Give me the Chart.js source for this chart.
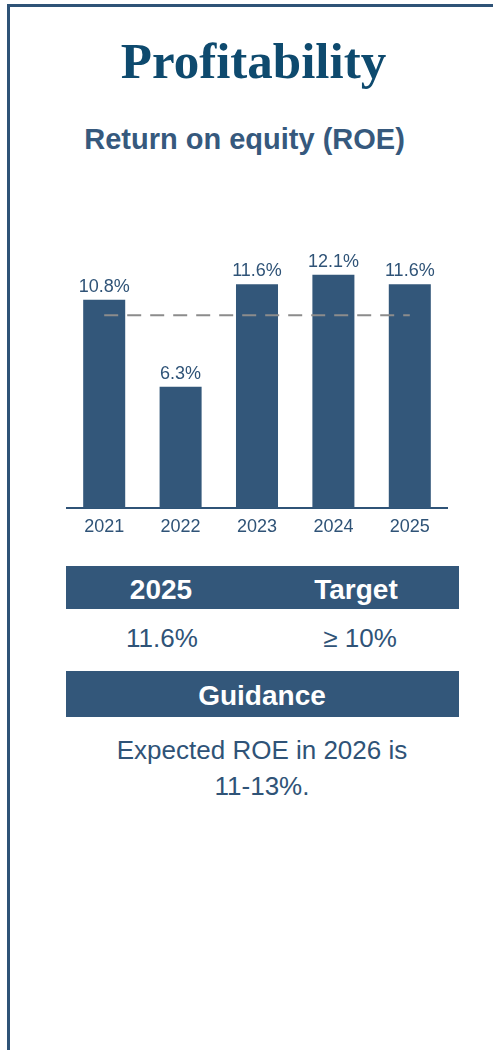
<!DOCTYPE html>
<html>
<head>
<meta charset="utf-8">
<script src="https://cdn.jsdelivr.net/npm/chart.js@4"></script>
<style>
  body { margin: 0; background: #fff; }
  #page { position: relative; width: 493px; height: 1050px; overflow: hidden; font-family: "Liberation Sans", Arial, sans-serif; }
  #frame { position: absolute; left: 7px; top: 4px; width: 600px; height: 1200px; border-top: 3px solid #2f5377; border-left: 3px solid #2f5377; }
  .txt { position: absolute; white-space: nowrap; text-align: center; }
  .bar { position: absolute; left: 66px; width: 393px; background: #33577a; }
  #title { left: 0; width: 507px; top: 36px; font: bold 51px "Liberation Serif", "Times New Roman", serif; line-height: 50px; color: #0e4a6e; }
  #subtitle { left: 0; width: 489px; top: 125px; font-size: 29px; line-height: 29px; font-weight: bold; color: #36597d; }
  .head { font-size: 28px; line-height: 28px; font-weight: bold; color: #fff; width: 200px; }
  .val { font-size: 26px; line-height: 26px; color: #2f5377; width: 200px; }
  #guide { left: 62px; width: 400px; top: 732px; font-size: 26px; line-height: 36px; color: #2f5377; white-space: normal; }
  #chartBox { position: absolute; left: 66px; top: 230px; }
</style>
</head>
<body>
<div id="page">
  <div id="frame"></div>
  <div id="title" class="txt">Profitability</div>
  <div id="subtitle" class="txt">Return on equity (ROE)</div>

  <div id="chartBox"><canvas id="roeChart" width="382" height="316"></canvas></div>

  <div class="bar" style="top:566px;height:43px;"></div>
  <div class="txt head" style="left:61px;top:576px;">2025</div>
  <div class="txt head" style="left:256px;top:576px;">Target</div>
  <div class="txt val" style="left:62px;top:625px;">11.6%</div>
  <div class="txt val" style="left:260px;top:625px;">≥ 10%</div>

  <div class="bar" style="top:671px;height:46px;"></div>
  <div class="txt head" style="left:62px;width:400px;top:682px;">Guidance</div>
  <div id="guide" class="txt">Expected ROE in 2026 is<br>11-13%.</div>
</div>

<script>
const years = ['2021', '2022', '2023', '2024', '2025'];
const roeValues = [10.8, 6.3, 11.6, 12.1, 11.6];
const targetValues = [10, 10, 10, 10, 10];

const textColor = '#2f5377';

// etiquetas de valor em cima das barras
const valueLabels = {
    id: 'valueLabels',
    afterDatasetsDraw(chart) {
        const ctx = chart.ctx;
        const meta = chart.getDatasetMeta(0);
        ctx.save();
        ctx.font = '18px "Liberation Sans", Arial, sans-serif';
        ctx.fillStyle = textColor;
        ctx.textAlign = 'center';
        ctx.textBaseline = 'alphabetic';
        meta.data.forEach((bar, i) => {
            ctx.fillText(roeValues[i].toFixed(1) + '%', bar.x, bar.y - 8);
        });
        ctx.restore();
    }
};

new Chart(document.getElementById('roeChart'), {
    data: {
        labels: years,
        datasets: [{
            type: 'bar',
            label: 'ROE',
            data: roeValues,
            backgroundColor: '#33577a',
            barPercentage: 0.55,
            categoryPercentage: 1,
            order: 1
        }, {
            type: 'line',
            label: 'Target',
            data: targetValues,
            borderColor: '#8c8c8c',
            borderWidth: 2,
            borderDash: [14, 9],
            pointRadius: 0,
            fill: false,
            order: 0
        }]
    },
    options: {
        responsive: false,
        animation: false,
        layout: { padding: { top: 8, left: 0, right: 0, bottom: 0 } },
        plugins: {
            legend: { display: false },
            tooltip: { enabled: false }
        },
        scales: {
            x: {
                grid: { display: false, drawTicks: false },
                border: { display: true, color: textColor, width: 2 },
                ticks: {
                    color: textColor,
                    padding: 8,
                    font: { family: '"Liberation Sans", Arial, sans-serif', size: 18 }
                }
            },
            y: {
                display: false,
                min: 0,
                max: 14
            }
        }
    },
    plugins: [valueLabels]
});
</script>
</body>
</html>
